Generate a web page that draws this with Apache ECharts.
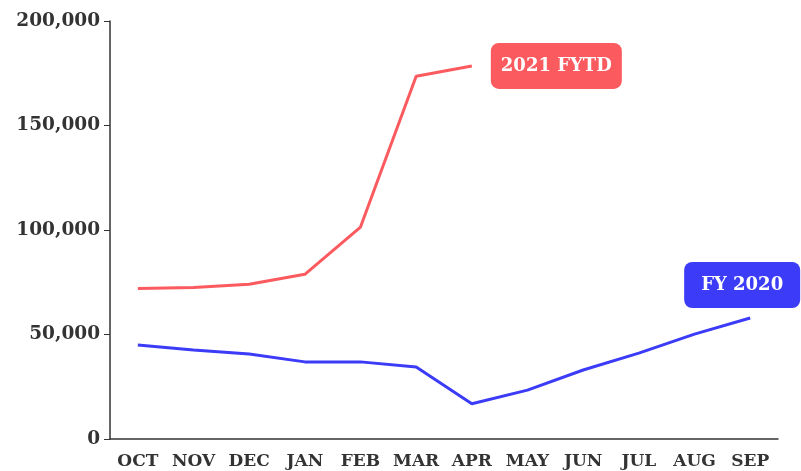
<!DOCTYPE html>
<html>
<head>
<meta charset="utf-8">
<script src="https://cdn.jsdelivr.net/npm/echarts@6/dist/echarts.min.js"></script>
<style>
  html, body { margin: 0; padding: 0; background: #fff; }
  #chart { width: 801px; height: 471px; }
</style>
</head>
<body>
<div id="chart"></div>
<script>
const months = ['OCT', 'NOV', 'DEC', 'JAN', 'FEB', 'MAR', 'APR', 'MAY', 'JUN', 'JUL', 'AUG', 'SEP'];
const fytd2021 = [72000, 72500, 74000, 78800, 101400, 173600, 178500];
const fy2020 = [45000, 42600, 40700, 36900, 36900, 34500, 16900, 23400, 33000, 41100, 50200, 57900];

const font = 'DejaVu Serif';
const red = '#fb5a5f';
const blue = '#3b3bf8';

const chart = echarts.init(document.getElementById('chart'));
chart.setOption({
  animation: false,
  grid: { left: 110, right: 23, top: 21, bottom: 32 },
  xAxis: {
    type: 'category',
    data: months,
    boundaryGap: true,
    axisLine: { lineStyle: { color: '#333', width: 1.5 } },
    axisTick: { alignWithLabel: true, length: 6, lineStyle: { color: '#333' } },
    axisLabel: { interval: 0, color: '#333', fontFamily: font, fontWeight: 'bold', fontSize: 17, margin: 14 }
  },
  yAxis: {
    type: 'value',
    min: 0,
    max: 200000,
    interval: 50000,
    splitLine: { show: false },
    axisLine: { show: true, lineStyle: { color: '#333', width: 1.5 } },
    axisTick: { show: true, length: 6, lineStyle: { color: '#333' } },
    axisLabel: {
      color: '#333', fontFamily: font, fontWeight: 'bold', fontSize: 18.5, margin: 10,
      formatter: (v) => v.toLocaleString('en-US')
    }
  },
  series: [
    {
      name: '2021 FYTD',
      type: 'line',
      data: fytd2021,
      showSymbol: false,
      lineStyle: { color: red, width: 3 },
      endLabel: {
        show: true,
        formatter: '2021 FYTD',
        color: '#fff',
        fontFamily: font,
        fontWeight: 'bold',
        fontSize: 18,
        lineHeight: 20,
        backgroundColor: red,
        borderRadius: 8,
        padding: [13, 10],
        offset: [11, 0]
      }
    },
    {
      name: 'FY 2020',
      type: 'line',
      data: fy2020,
      showSymbol: false,
      lineStyle: { color: blue, width: 3 },
      endLabel: {
        show: true,
        formatter: 'FY 2020',
        color: '#fff',
        fontFamily: font,
        fontWeight: 'bold',
        fontSize: 18,
        lineHeight: 20,
        backgroundColor: blue,
        borderRadius: 8,
        padding: [13, 17],
        offset: [-74, -33]
      }
    }
  ]
});
</script>
</body>
</html>
